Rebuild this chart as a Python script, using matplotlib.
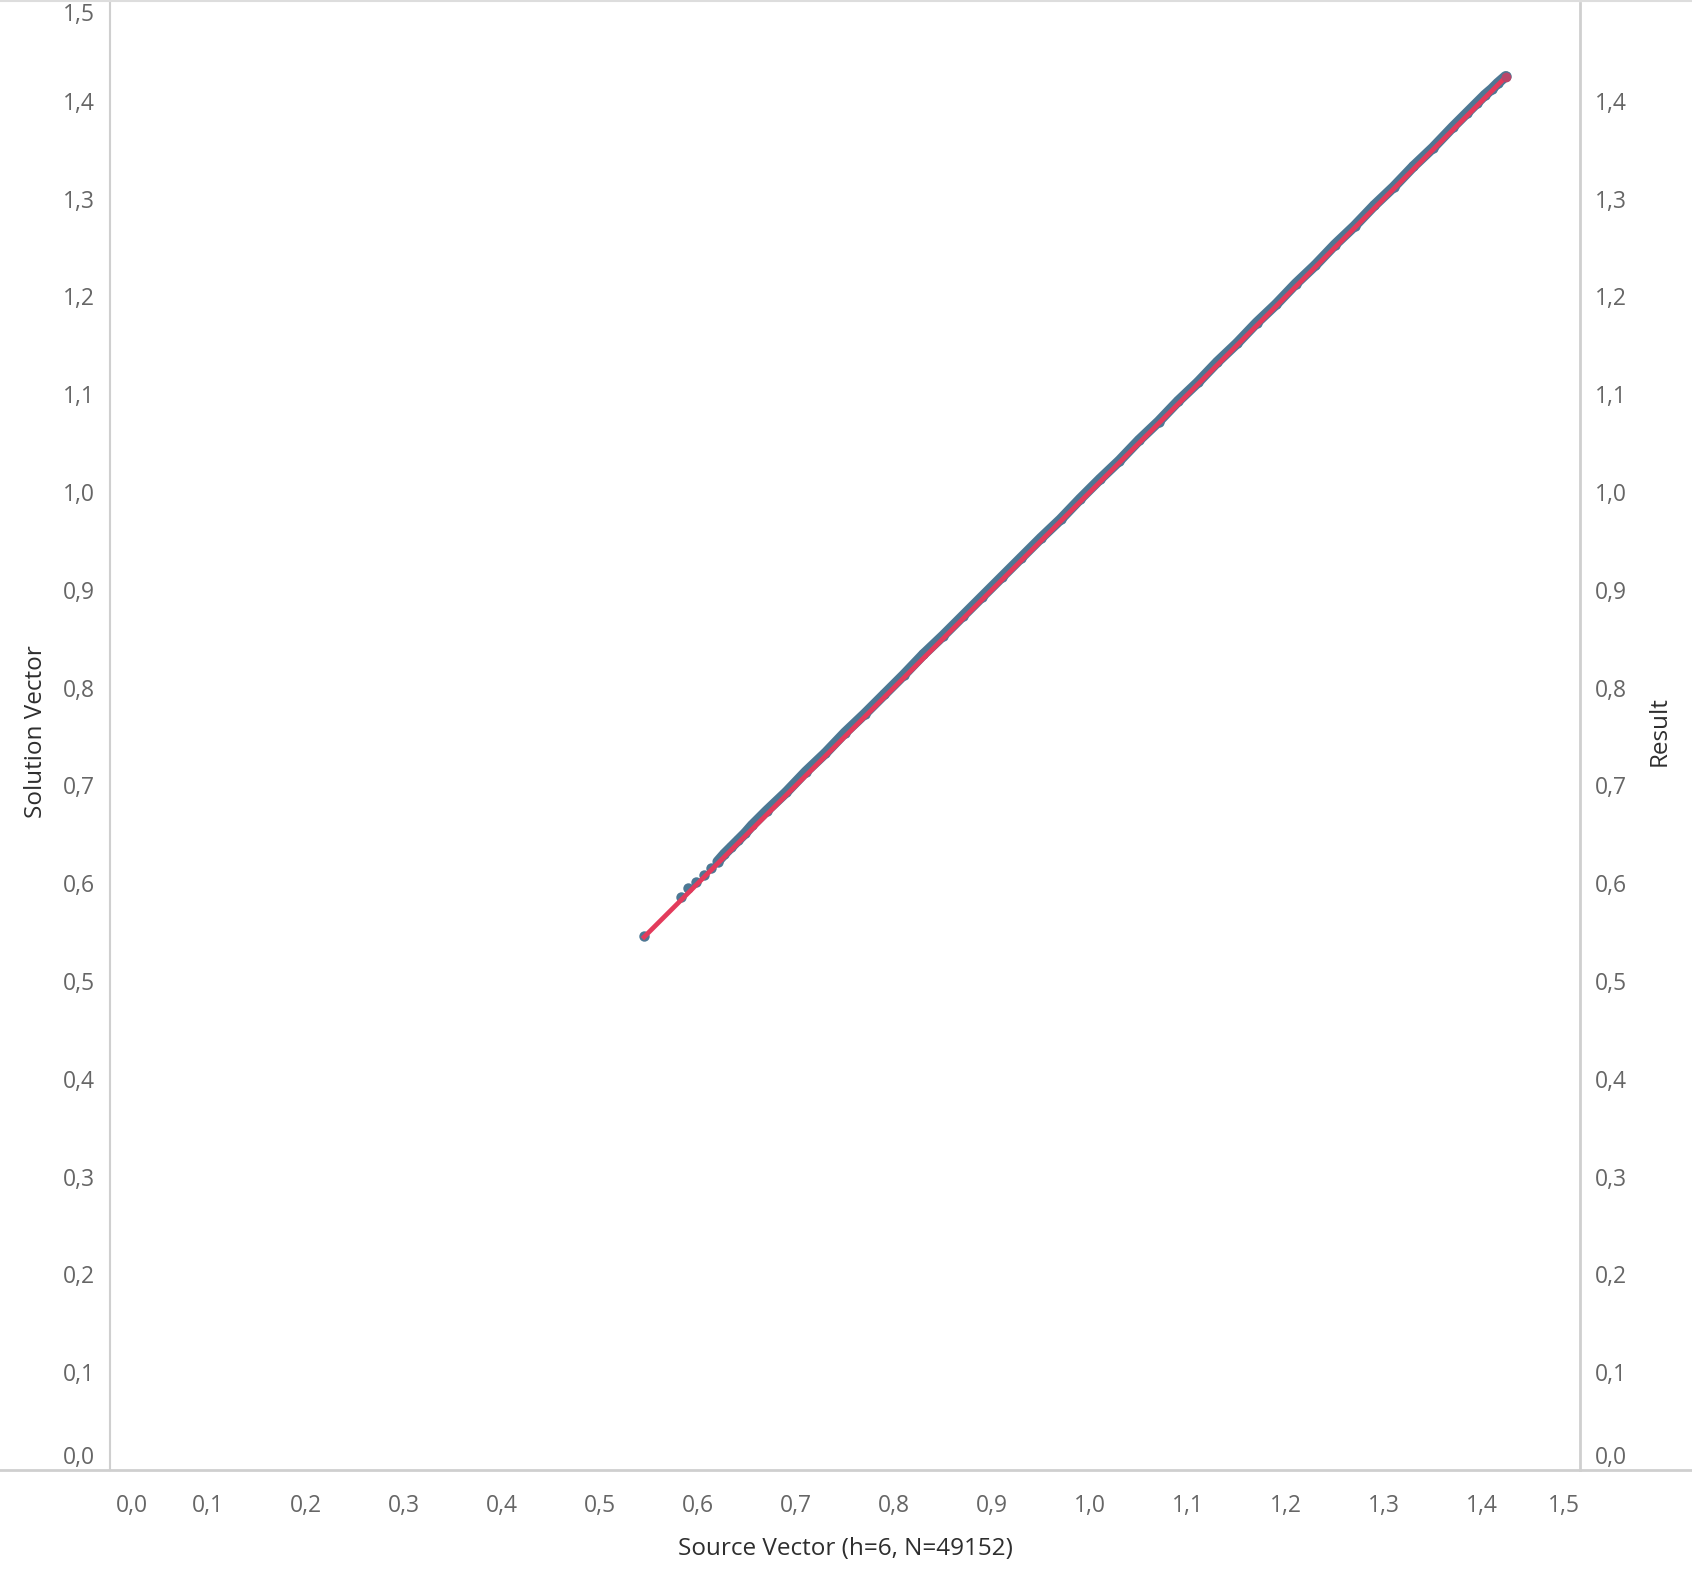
import matplotlib

matplotlib.use("Agg")
import matplotlib.pyplot as plt
import matplotlib.transforms as mtransforms
from matplotlib.lines import Line2D

# Source vector values (x) and the two measures plotted against them
source_vector = [
    0.545, 0.583, 0.590, 0.598, 0.606, 0.613, 0.620, 0.627, 0.634, 0.641, 0.648, 0.655,
    0.670, 0.690, 0.710, 0.730, 0.750, 0.770, 0.790, 0.810, 0.830, 0.850, 0.870, 0.890,
    0.910, 0.930, 0.950, 0.970, 0.990, 1.010, 1.030, 1.050, 1.070, 1.090, 1.110, 1.130,
    1.150, 1.170, 1.190, 1.210, 1.230, 1.250, 1.270, 1.290, 1.310, 1.330, 1.350, 1.370,
    1.385, 1.395, 1.403, 1.410, 1.416, 1.424,
]
solution_vector = [
    0.546, 0.586, 0.595, 0.601, 0.608, 0.616, 0.622, 0.630, 0.637, 0.644, 0.651, 0.659,
    0.674, 0.693, 0.714, 0.733, 0.754, 0.773, 0.793, 0.813, 0.834, 0.853, 0.873, 0.893,
    0.913, 0.933, 0.953, 0.972, 0.993, 1.013, 1.032, 1.053, 1.072, 1.093, 1.112, 1.133,
    1.152, 1.173, 1.192, 1.213, 1.232, 1.253, 1.272, 1.293, 1.312, 1.333, 1.352, 1.373,
    1.388, 1.398, 1.406, 1.412, 1.418, 1.425,
]
result = [
    0.545, 0.583, 0.591, 0.598, 0.606, 0.613, 0.621, 0.627, 0.634, 0.641, 0.648, 0.655,
    0.670, 0.690, 0.710, 0.730, 0.750, 0.770, 0.790, 0.810, 0.830, 0.850, 0.870, 0.890,
    0.910, 0.930, 0.950, 0.970, 0.990, 1.010, 1.030, 1.050, 1.070, 1.090, 1.110, 1.130,
    1.150, 1.170, 1.190, 1.210, 1.230, 1.250, 1.270, 1.290, 1.310, 1.330, 1.350, 1.370,
    1.385, 1.395, 1.403, 1.410, 1.416, 1.424,
]

x_ticks = [0.0, 0.1, 0.2, 0.3, 0.4, 0.5, 0.6, 0.7, 0.8, 0.9, 1.0, 1.1, 1.2, 1.3, 1.4, 1.5]
y_ticks_left = x_ticks
y_ticks_right = x_ticks[:-1]

BLUE = "#4d7894"
RED = "#e33b5b"
GREY_LINE = "#cfcfcf"
TICK_COL = "#666666"
LABEL_COL = "#2e2e2e"

plt.rcParams["font.family"] = ["Open Sans", "DejaVu Sans"]


def fmt(v):
    return f"{v:.1f}".replace(".", ",")


fig = plt.figure(figsize=(16.92, 15.82), dpi=100)
ax = fig.add_axes([110 / 1692, 1 - 1470 / 1582, 1470 / 1692, 1467 / 1582])
ax2 = ax.twinx()

# dense band of solution points
dense = [i for i, s in enumerate(source_vector) if s >= 0.62]
ax.plot([source_vector[i] for i in dense], [solution_vector[i] for i in dense],
        color=BLUE, lw=7.5, solid_capstyle="round", zorder=2)
ax.plot(source_vector, solution_vector, "o", color=BLUE, ms=7.5, mew=0, zorder=3)

ax2.plot(result, result, color=RED, lw=3.4, zorder=4)
ax2.plot([result[-1]], [result[-1]], "o", color="#b8466a", ms=7, mew=0, zorder=5)

for a in (ax, ax2):
    a.set_xlim(0, 1.5)
    a.set_ylim(0, 1.5)
    a.tick_params(length=0, labelsize=16.5, labelcolor=TICK_COL)
    for side in ("top", "bottom", "left", "right"):
        a.spines[side].set_visible(False)

ax.spines["left"].set_visible(True)
ax.spines["left"].set_color(GREY_LINE)
ax.spines["left"].set_linewidth(1.5)
ax2.spines["right"].set_visible(True)
ax2.spines["right"].set_color(GREY_LINE)
ax2.spines["right"].set_linewidth(2)

ax.set_xticks(x_ticks)
ax.set_xticklabels([fmt(v) for v in x_ticks])
ax.set_yticks(y_ticks_left)
ax.set_yticklabels([fmt(v) for v in y_ticks_left])
ax2.set_yticks(y_ticks_right)
ax2.set_yticklabels([fmt(v) for v in y_ticks_right])
ax.tick_params(axis="x", pad=17)
ax.tick_params(axis="y", pad=11)
ax2.tick_params(axis="y", pad=11)

# keep end labels inside the pane like the original
xl = ax.get_xticklabels()
xl[0].set_ha("left")
xl[0].set_transform(xl[0].get_transform() + mtransforms.ScaledTranslation(6 / 100, 0, fig.dpi_scale_trans))
xl[-1].set_ha("right")
yl = ax.get_yticklabels()
yl[0].set_va("bottom")
yl[-1].set_va("top")
ax2.get_yticklabels()[0].set_va("bottom")

ax.set_xlabel("Source Vector (h=6, N=49152)", fontsize=17.5, color=LABEL_COL, va="center")
ax.xaxis.set_label_coords(0.5, -0.054)
ax.set_ylabel("Solution Vector", fontsize=17.5, color=LABEL_COL, va="center")
ax.yaxis.set_label_coords(-0.050, 0.503)
ax2.set_ylabel("Result", fontsize=17.5, color=LABEL_COL, va="center", rotation=90)
ax2.yaxis.set_label_coords(1.0545, 0.504)

# full-width rules at the bottom of the pane and at the very top
fig.add_artist(Line2D([0, 1], [1 - 1470 / 1582] * 2, color=GREY_LINE, lw=2, transform=fig.transFigure))
fig.add_artist(Line2D([0, 1], [1 - 1 / 1582] * 2, color="#dddddd", lw=1.5, transform=fig.transFigure))

fig.savefig("out.png", dpi=100)
